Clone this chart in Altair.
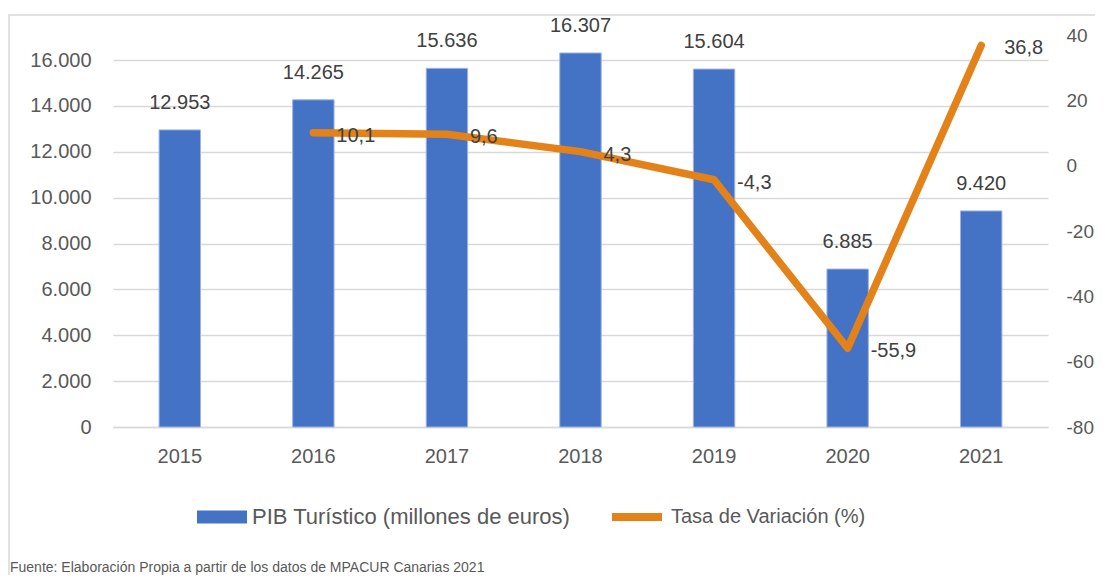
import altair as alt
import pandas as pd

years = ["2015", "2016", "2017", "2018", "2019", "2020", "2021"]
pib = [12953, 14265, 15636, 16307, 15604, 6885, 9420]
tasa = [None, 10.1, 9.6, 4.3, -4.3, -55.9, 36.8]
serie_pib = "PIB Turístico (millones de euros)"
serie_tasa = "Tasa de Variación (%)"
fuente = "Fuente: Elaboración Propia a partir de  los datos de MPACUR Canarias 2021"
left_ticks = [0, 2000, 4000, 6000, 8000, 10000, 12000, 14000, 16000]
right_ticks = [-80, -60, -40, -20, 0, 20, 40]

df = pd.DataFrame({"year": years, "pib": pib, "tasa": tasa})
df["s1"] = serie_pib
df["s2"] = serie_tasa

FONT = "Liberation Sans, Arial, sans-serif"
BLUE = "#4472C4"
ORANGE = "#E4821A"
GRID = "#D9D9D9"
LAB = "#595959"
TXT = "#404040"
FS = 20

x_enc = alt.X(
    "year:N",
    sort=years,
    title=None,
    scale=alt.Scale(paddingInner=0.69, paddingOuter=0.345),
    axis=alt.Axis(labelAngle=0, ticks=False, domainColor=GRID, domainWidth=1.5,
                  labelPadding=19, labelFontSize=FS, labelColor=LAB, labelFont=FONT),
)

base_l = alt.Chart(df).encode(
    x=x_enc,
    y=alt.Y("pib:Q", title=None,
            scale=alt.Scale(domain=[0, 17090], nice=False, zero=True),
            axis=alt.Axis(values=left_ticks, format=",d", grid=True, gridColor=GRID,
                          gridWidth=1.5, domain=False, ticks=False, labelPadding=22,
                          labelFontSize=FS, labelColor=LAB, labelFont=FONT)),
)

bars = base_l.mark_bar(stroke="#9DB4E2", strokeWidth=1).encode(
    color=alt.Color("s1:N", scale=alt.Scale(domain=[serie_pib], range=[BLUE]), title=None,
                    legend=alt.Legend(orient="none", legendX=84, legendY=457,
                                      symbolType="M-1,-0.26H1V0.26H-1Z", symbolSize=2500,
                                      symbolStrokeWidth=0, labelFontSize=22, labelColor=LAB,
                                      labelFont=FONT, labelOffset=5, labelLimit=600)),
)
bar_text = base_l.mark_text(baseline="bottom", dy=-17, fontSize=FS, font=FONT, color=TXT).encode(
    text=alt.Text("pib:Q", format=",d")
)

line_df_base = alt.Chart(df).transform_filter("isValid(datum.tasa)").encode(
    x=x_enc,
    y=alt.Y("tasa:Q", title=None,
            scale=alt.Scale(domain=[-80, 40], nice=False, zero=False),
            axis=alt.Axis(orient="right", values=right_ticks, grid=False, domain=False,
                          ticks=False, labelPadding=18, labelFontSize=19, labelColor=LAB,
                          labelFont=FONT)),
)

line = line_df_base.mark_line(strokeWidth=7.5, strokeCap="round", strokeJoin="round").encode(
    stroke=alt.Stroke("s2:N", scale=alt.Scale(domain=[serie_tasa], range=[ORANGE]), title=None,
                      legend=alt.Legend(orient="none", legendX=495, legendY=453,
                                        symbolType="stroke", symbolSize=2500,
                                        symbolStrokeWidth=8, labelFontSize=20, labelColor=LAB,
                                        labelFont=FONT, labelOffset=5, labelLimit=600)),
)
line_text = line_df_base.mark_text(align="left", baseline="middle", dx=23, dy=3, fontSize=FS,
                                   font=FONT, color=TXT).encode(
    text=alt.Text("tasa:Q", format=".1f")
)

one = pd.DataFrame({"a": [0]})
border = alt.Chart(one).mark_rect(filled=False, stroke=GRID, strokeWidth=1.5).encode(
    x=alt.value(-104), x2=alt.value(1000), y=alt.value(-20), y2=alt.value(560)
)
footer = alt.Chart(one).mark_text(align="left", baseline="bottom", fontSize=14, font=FONT,
                                  color=LAB).encode(
    x=alt.value(-103), y=alt.value(540), text=alt.value(fuente)
)

chart = alt.layer(
    border,
    alt.layer(bars, bar_text),
    alt.layer(line, line_text),
    footer,
).resolve_scale(y="independent", color="independent", stroke="independent").properties(
    width=935, height=392,
    autosize=alt.AutoSizeParams(type="none"),
    padding={"left": 105, "top": 27, "right": 47, "bottom": 148},
).configure(
    locale={"number": {"decimal": ",", "thousands": ".", "grouping": [3],
                       "currency": ["", " €"], "minus": "-"}}
).configure_view(stroke=None)

chart.save("out.html", embed_options={"renderer": "svg", "actions": False})
